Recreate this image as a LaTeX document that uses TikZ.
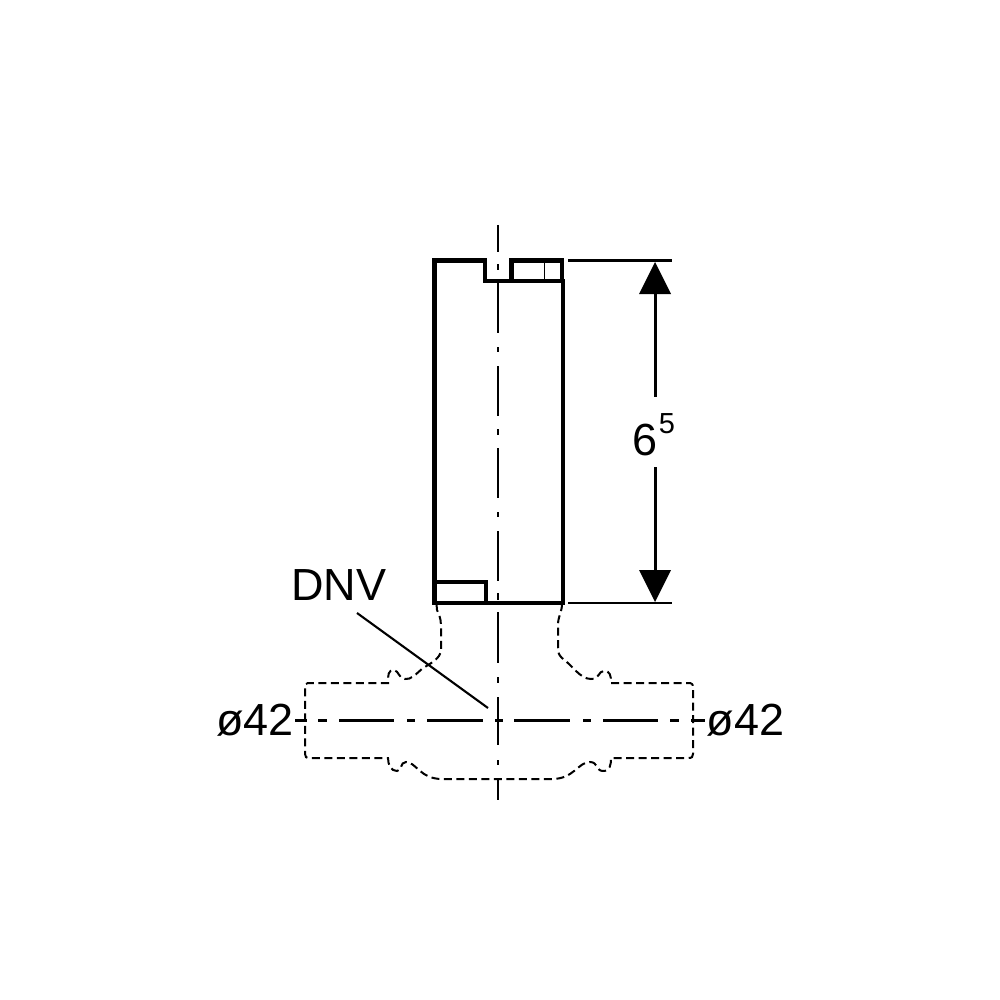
\documentclass[tikz,border=0pt]{standalone}
\usepackage{fontspec}
\setmainfont{Liberation Sans}
\tikzset{
  thick line/.style={line width=4.4pt,line join=miter,line cap=rect},
  thin line/.style={line width=2.1pt},
  hair/.style={line width=1.3pt},
  ghost/.style={line width=2pt,dash pattern=on 8pt off 4.5pt},
  label/.style={inner sep=0pt,font=\fontsize{45}{45}\selectfont,anchor=base},
  tip/.style={fill=black,draw=none}
}
\begin{document}
\begin{tikzpicture}[x=1pt,y=-1pt]
\useasboundingbox (0,0) rectangle (1000,1000);
% centre lines
\foreach \a/\b in {225/252,264/270,282/333,347/352,366/416,429/435,448/498,512/517,531/581,593/600,612/663,677/683,697/745,760/765,778/800}
  \draw[thin line] (498,\a) -- (498,\b);
\foreach \a/\b in {295/307,318/327,339/394,407/415,427/483,495/503,514/570,583/591,603/658,670/679,691/705}
  \draw[thin line] (\a,720.5) -- (\b,720.5);
% body
\draw[thick line] (434.5,603) -- (434.5,260.5) -- (485,260.5) -- (485,281) -- (563,281) -- (563,603) -- cycle;
\draw[thick line] (511.5,281) -- (511.5,260.5) -- (562,260.5) -- (562,281);
\draw[hair] (544.5,261) -- (544.5,281);
\draw[thick line] (435,582) -- (486,582) -- (486,603);
% dimension
\draw[thin line] (568,260.5) -- (672,260.5);
\draw[thin line] (568,603) -- (672,603);
\draw[tip] (655,262) -- (671,294) -- (639,294) -- cycle;
\draw[tip] (655,602) -- (671,570) -- (639,570) -- cycle;
\coordinate (d1) at (655.5,294);
\coordinate (d2) at (655.5,397);
\coordinate (d3) at (655.5,467);
\coordinate (d4) at (655.5,570);
\draw[thin line] (d1) -- (d2);
\draw[thin line] (d3) -- (d4);
\node[label] (dim) at (645.5,455) {6};
\node[inner sep=0pt,font=\fontsize{29}{29}\selectfont,anchor=base] (dimsup) at (667,433) {5};
% labels
\node[label] (dnv) at (339,600) {DNV};
\node[label] (dl) at (255,735) {ø42};
\node[label] (dr) at (745.5,735) {ø42};
\coordinate (l1) at (357,613);
\coordinate (l2) at (488,708);
\draw[thin line] (l1) -- (l2);
% hidden outline
\draw[ghost] (436.5,604) -- (437,610) .. controls (441,618) and (441,622) .. (441,630) -- (441,650)
  .. controls (441,658) and (430,664) .. (423,668)
  .. controls (416,674) and (411,680) .. (405,679)
  .. controls (399,679) and (399,671) .. (394,670)
  .. controls (388,670) and (388,675) .. (388,683)
  -- (310,683) .. controls (306,683) and (305,684) .. (305,688)
  -- (305,754) .. controls (305,757) and (306,758) .. (310,758)
  -- (388,758) .. controls (388,765) and (391,771) .. (397,771)
  .. controls (402,771) and (400,762) .. (406,762)
  .. controls (416,762) and (420,779) .. (442,779)
  -- (552,779) .. controls (574,779) and (578,762) .. (590,762)
  .. controls (598,762) and (596,771) .. (603,771)
  .. controls (610,771) and (611,765) .. (611,758)
  -- (688,758) .. controls (692,758) and (693,757) .. (693,754)
  -- (693,688) .. controls (693,684) and (692,683) .. (688,683)
  -- (611,683) .. controls (611,675) and (610,671) .. (604,671)
  .. controls (598,671) and (600,679) .. (591,679)
  .. controls (580,679) and (572,665) .. (562,658)
  .. controls (559,655) and (558,653) .. (558,648)
  -- (558,625) .. controls (558,616) and (562,612) .. (562,604);
\end{tikzpicture}
\end{document}
